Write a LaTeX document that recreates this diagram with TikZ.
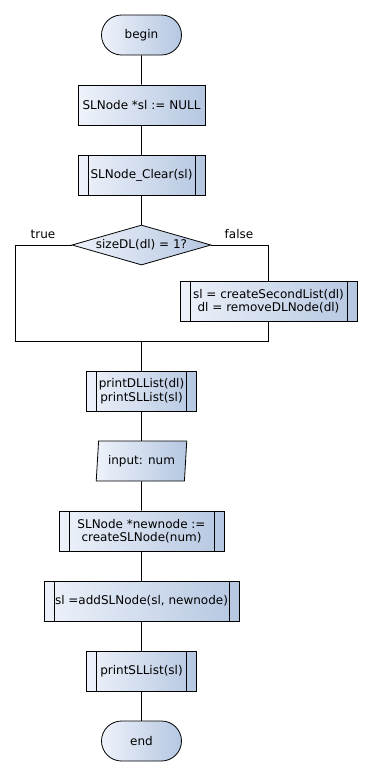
\documentclass[tikz,border=0pt]{standalone}
\usepackage{fontspec}
\setmainfont{DejaVu Sans}
\usepackage{tikz}
\usetikzlibrary{shapes.geometric}
\usetikzlibrary{shapes.misc}

\definecolor{boxlight}{HTML}{EEF2FA}
\definecolor{boxdark}{HTML}{B5C7E1}

\tikzset{
  box/.style={draw, line width=0.8pt, left color=boxlight, right color=boxdark,
    minimum height=40pt, inner sep=0pt, align=center, font=\fontsize{12}{13.5}\selectfont},
  term/.style={box, rounded rectangle, minimum width=80pt},
  proc/.style={box, rectangle},
  sub/.style={box, rectangle, path picture={
      \draw[line width=0.8pt] ([xshift=10pt]path picture bounding box.north west) -- ([xshift=10pt]path picture bounding box.south west);
      \draw[line width=0.8pt] ([xshift=-10pt]path picture bounding box.north east) -- ([xshift=-10pt]path picture bounding box.south east);}},
  cond/.style={box, diamond, aspect=3.5, minimum width=139pt},
  io/.style={box, trapezium, trapezium left angle=81, trapezium right angle=99,
    trapezium stretches=true, minimum width=91pt},
  lbl/.style={font=\fontsize{12}{13.5}\selectfont}
}

\begin{document}
\begin{tikzpicture}[x=1pt, y=-1pt, line width=0.8pt]
        \useasboundingbox (0, 0) rectangle (371, 777);

        % main column
        \node[term] (begin) at (141.5, 35) {begin};
        \node[proc, minimum width=127pt] (init) at (141.5, 105) {SLNode *sl := NULL};
        \node[sub, minimum width=127pt] (clear) at (141.5, 175) {SLNode\_Clear(sl)};
        \node[cond] (size) at (141.5, 245) {sizeDL(dl) = 1?};
        \node[lbl] (true) at (43, 234) {true};
        \node[lbl] (false) at (239, 234) {false};
        \node[sub, minimum width=177pt] (second) at (268.5, 301) {sl = createSecondList(dl)\\dl = removeDLNode(dl)};
        \node[sub, minimum width=110pt] (print) at (141.5, 391) {printDLList(dl)\\printSLList(sl)};
        \node[io] (input) at (141.5, 461) {input: num};
        \node[sub, minimum width=165pt] (newnode) at (141.5, 531) {SLNode *newnode :=\\createSLNode(num)};
        \node[sub, minimum width=195pt] (add) at (141.5, 601) {sl =addSLNode(sl, newnode)};
        \node[sub, minimum width=110pt] (printsl) at (141.5, 671) {printSLList(sl)};
        \node[term] (end) at (141.5, 741) {end};

        % branch joins
        \coordinate (ljoin) at (15, 341);
        \coordinate (rjoin) at (268.5, 341);
        \coordinate (mjoin) at (141.5, 341);

        \draw (begin) -- (init);
        \draw (init) -- (clear);
        \draw (clear) -- (size);
        \draw (size.west) -| (ljoin) -- (rjoin);
        \draw (size.east) -| (second.north);
        \draw (second.south) -- (rjoin);
        \draw (mjoin) -- (print);
        \draw (print) -- (input);
        \draw (input) -- (newnode);
        \draw (newnode) -- (add);
        \draw (add) -- (printsl);
        \draw (printsl) -- (end);
      \end{tikzpicture}
\end{document}
